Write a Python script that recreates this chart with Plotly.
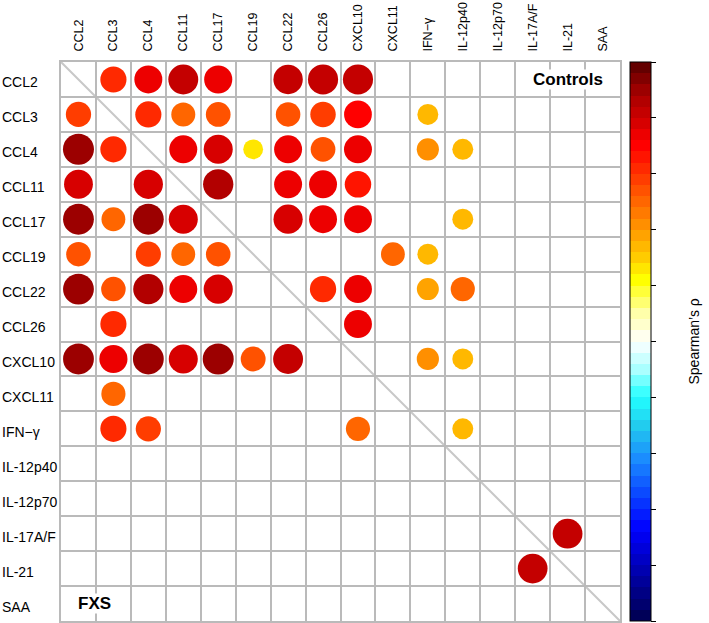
import plotly.graph_objects as go

# ---------------- data ----------------
markers = ["CCL2", "CCL3", "CCL4", "CCL11", "CCL17", "CCL19", "CCL22", "CCL26",
           "CXCL10", "CXCL11", "IFN\u2212\u03b3", "IL-12p40", "IL-12p70",
           "IL-17A/F", "IL-21", "SAA"]

IFN = "IFN\u2212\u03b3"

# Controls: upper triangle (row marker, column marker, Spearman's rho)
controls_rho = [
    ("CCL2", "CCL3", 0.62), ("CCL2", "CCL4", 0.72), ("CCL2", "CCL11", 0.83),
    ("CCL2", "CCL17", 0.73), ("CCL2", "CCL22", 0.80), ("CCL2", "CCL26", 0.84),
    ("CCL2", "CXCL10", 0.84),
    ("CCL3", "CCL4", 0.62), ("CCL3", "CCL11", 0.50), ("CCL3", "CCL17", 0.54),
    ("CCL3", "CCL22", 0.53), ("CCL3", "CCL26", 0.58), ("CCL3", "CXCL10", 0.71),
    ("CCL3", IFN, 0.33),
    ("CCL4", "CCL11", 0.72), ("CCL4", "CCL17", 0.78), ("CCL4", "CCL19", 0.27),
    ("CCL4", "CCL22", 0.72), ("CCL4", "CCL26", 0.54), ("CCL4", "CXCL10", 0.72),
    ("CCL4", IFN, 0.40), ("CCL4", "IL-12p40", 0.33),
    ("CCL11", "CCL17", 0.85), ("CCL11", "CCL22", 0.72), ("CCL11", "CCL26", 0.72),
    ("CCL11", "CXCL10", 0.64),
    ("CCL17", "CCL22", 0.79), ("CCL17", "CCL26", 0.72), ("CCL17", "CXCL10", 0.72),
    ("CCL17", "IL-12p40", 0.33),
    ("CCL19", "CXCL11", 0.49), ("CCL19", IFN, 0.33),
    ("CCL22", "CCL26", 0.63), ("CCL22", "CXCL10", 0.72), ("CCL22", IFN, 0.39),
    ("CCL22", "IL-12p40", 0.51),
    ("CCL26", "CXCL10", 0.72),
    ("CXCL10", IFN, 0.40), ("CXCL10", "IL-12p40", 0.33),
    (IFN, "IL-12p40", 0.33),
    ("IL-17A/F", "IL-21", 0.82),
]

# FXS: lower triangle (row marker, column marker, Spearman's rho)
fxs_rho = [
    ("CCL3", "CCL2", 0.57),
    ("CCL4", "CCL2", 0.89), ("CCL4", "CCL3", 0.62),
    ("CCL11", "CCL2", 0.77), ("CCL11", "CCL4", 0.79),
    ("CCL17", "CCL2", 0.88), ("CCL17", "CCL3", 0.49), ("CCL17", "CCL4", 0.88),
    ("CCL17", "CCL11", 0.78),
    ("CCL19", "CCL2", 0.53), ("CCL19", "CCL4", 0.56), ("CCL19", "CCL11", 0.49),
    ("CCL19", "CCL17", 0.53),
    ("CCL22", "CCL2", 0.88), ("CCL22", "CCL3", 0.53), ("CCL22", "CCL4", 0.85),
    ("CCL22", "CCL11", 0.72), ("CCL22", "CCL17", 0.79),
    ("CCL26", "CCL3", 0.62),
    ("CXCL10", "CCL2", 0.88), ("CXCL10", "CCL3", 0.73), ("CXCL10", "CCL4", 0.88),
    ("CXCL10", "CCL11", 0.78), ("CXCL10", "CCL17", 0.89), ("CXCL10", "CCL19", 0.55),
    ("CXCL10", "CCL22", 0.83),
    ("CXCL11", "CCL3", 0.51),
    (IFN, "CCL3", 0.62), (IFN, "CCL4", 0.57), (IFN, "CXCL10", 0.51),
    ("IL-21", "IL-17A/F", 0.82),
]

colorbar_ticks = [-1.0, -0.8, -0.6, -0.4, -0.2, 0.0, 0.2, 0.4, 0.6, 0.8, 1.0]

# ---------------- colour map (stepped, hot/cold) ----------------
anchors = [
    (-1.00, (0x00, 0x00, 0x4d)), (-0.80, (0x00, 0x00, 0xbb)), (-0.67, (0x00, 0x00, 0xff)),
    (-0.55, (0x0a, 0x44, 0xff)), (-0.43, (0x1a, 0x88, 0xff)), (-0.30, (0x22, 0xcc, 0xee)),
    (-0.20, (0x22, 0xff, 0xff)), (-0.10, (0xaa, 0xff, 0xff)), (0.00, (0xff, 0xff, 0xff)),
    (0.10, (0xff, 0xff, 0xaa)), (0.22, (0xff, 0xff, 0x00)), (0.30, (0xff, 0xcc, 0x00)),
    (0.40, (0xff, 0x99, 0x00)), (0.50, (0xff, 0x66, 0x00)), (0.60, (0xff, 0x33, 0x00)),
    (0.70, (0xff, 0x00, 0x00)), (0.75, (0xe8, 0x00, 0x00)), (0.80, (0xcc, 0x00, 0x00)),
    (0.88, (0xaa, 0x00, 0x00)), (0.93, (0x88, 0x00, 0x00)), (1.00, (0x55, 0x00, 0x00)),
]


def cmap(v):
    for (v0, c0), (v1, c1) in zip(anchors[:-1], anchors[1:]):
        if v <= v1:
            t = (v - v0) / (v1 - v0)
            c = [round(a + (b - a) * t) for a, b in zip(c0, c1)]
            return "rgb(%d,%d,%d)" % tuple(c)
    return "rgb(%d,%d,%d)" % anchors[-1][1]


N_LEVELS = 50
colorscale = []
for k in range(N_LEVELS):
    v = -1 + (k + 0.5) * 2 / N_LEVELS
    col = cmap(v)
    colorscale.append([k / N_LEVELS, col])
    colorscale.append([(k + 1) / N_LEVELS, col])

# ---------------- figure ----------------
idx = {m: i for i, m in enumerate(markers)}
FONT = "Liberation Sans, Arial, sans-serif"
GRID = "#bababa"


def trace(pairs, name):
    xs = [idx[c] for r, c, v in pairs]
    ys = [idx[r] for r, c, v in pairs]
    vals = [v for r, c, v in pairs]
    sizes = [15 + 18 * abs(v) for v in vals]
    return go.Scatter(
        x=xs, y=ys, mode="markers", name=name,
        marker=dict(size=sizes, color=vals, coloraxis="coloraxis",
                    line=dict(width=0), opacity=1),
        customdata=[[r, c] for r, c, v in pairs],
        hovertemplate="%{customdata[0]} / %{customdata[1]}<br>rho=%{marker.color}<extra>" + name + "</extra>",
        showlegend=False,
    )


fig = go.Figure([trace(controls_rho, "Controls"), trace(fxs_rho, "FXS")])

n = len(markers)
axis_common = dict(
    range=[-0.5, n - 0.5], showgrid=False, zeroline=False, ticks="",
    showline=True, mirror=True, linecolor=GRID, linewidth=2,
    minor=dict(tickmode="linear", tick0=-0.5, dtick=1, showgrid=True,
               gridcolor=GRID, gridwidth=2, ticks=""),
    fixedrange=True, automargin=False,
)

fig.update_layout(
    width=709, height=623,
    margin=dict(l=61, r=89, t=62, b=2, autoexpand=False),
    paper_bgcolor="white", plot_bgcolor="white",
    font=dict(family=FONT, size=14, color="black"),
    xaxis=dict(axis_common, side="top", tickmode="array",
               tickvals=list(range(n)), ticktext=markers, tickangle=-90,
               tickfont=dict(family=FONT, size=12.5, color="black"),
               ticklabelstandoff=6),
    yaxis=dict(axis_common, range=[n - 0.5, -0.5], showticklabels=False),
    coloraxis=dict(
        cmin=-1, cmax=1, colorscale=colorscale,
        colorbar=dict(
            x=1.0179, xanchor="left", xpad=0, y=0.5, yanchor="middle", ypad=0,
            thickness=21, thicknessmode="pixels", len=1, lenmode="fraction",
            outlinewidth=1, outlinecolor="black",
            tickmode="array", tickvals=colorbar_ticks, ticks="outside",
            ticklen=5, tickcolor="black", tickwidth=1, showticklabels=False,
        ),
    ),
)

# diagonal
fig.add_shape(type="line", xref="x", yref="y", x0=-0.5, y0=-0.5, x1=n - 0.5, y1=n - 0.5,
              line=dict(color="#c8c8c8", width=2), layer="below")

# row labels (left aligned)
for i, m in enumerate(markers):
    fig.add_annotation(x=-61 / 559, xref="paper", y=i, yref="y", text=m,
                       xanchor="left", yanchor="middle", showarrow=False,
                       yshift=-3, font=dict(family=FONT, size=14, color="black"))

# group labels
BOLD = "Liberation Sans, Arial, sans-serif"
fig.add_annotation(x=14.0, y=0, xref="x", yref="y", text="<b>Controls</b>",
                   showarrow=False, bgcolor="white", borderpad=0,
                   font=dict(family=BOLD, size=17, color="black"))
fig.add_annotation(x=0.47, y=15, xref="x", yref="y", text="<b>FXS</b>",
                   showarrow=False, bgcolor="white", borderpad=0,
                   font=dict(family=BOLD, size=17, color="black"))

# colorbar title
fig.add_annotation(x=(693 - 61) / 559, y=0.5, xref="paper", yref="paper",
                   text="Spearman\u2019s \u03c1", textangle=-90, showarrow=False,
                   xanchor="center", yanchor="middle",
                   font=dict(family=FONT, size=14, color="black"))

fig.write_html("out.html", post_script="document.body.style.margin='0';",
               config={"displayModeBar": False})
